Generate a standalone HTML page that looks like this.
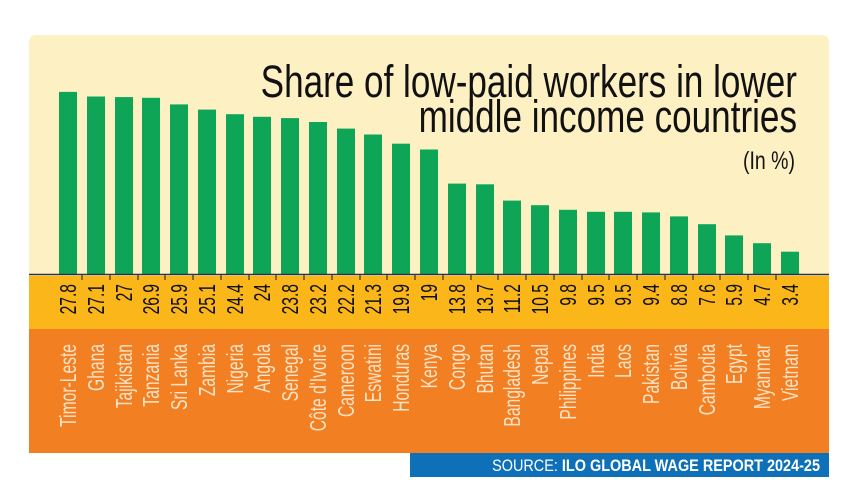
<!DOCTYPE html>
<html><head><style>body{margin:0;background:#fff}svg{display:block}</style></head><body>
<svg width="857" height="482" viewBox="0 0 857 482" xmlns="http://www.w3.org/2000/svg" font-family="'Liberation Sans Narrow','Liberation Sans',sans-serif">
<path d="M37,35 H821 Q829,35 829,43 V276 H29 V43 Q29,35 37,35Z" fill="#fdf0c2"/>
<rect x="29" y="276" width="800" height="53" fill="#fbb619"/>
<rect x="29" y="329" width="800" height="124" fill="#f27f22"/>
<rect x="410" y="453" width="419" height="24" fill="#0d70b8"/>
<text x="820" y="471" text-anchor="end" font-size="17" fill="#fff" transform="translate(820 0) scale(0.85 1) translate(-820 0)">SOURCE: <tspan font-weight="bold">ILO GLOBAL WAGE REPORT 2024-25</tspan></text>
<g fill="#111" text-anchor="end">
<text x="797" y="97" font-size="45" transform="translate(797 0) scale(0.78 1) translate(-797 0)">Share of low-paid workers in lower</text>
<text x="797" y="132" font-size="45" transform="translate(797 0) scale(0.78 1) translate(-797 0)">middle income countries</text>
<text x="795" y="169" font-size="25" transform="translate(795 0) scale(0.78 1) translate(-795 0)">(In %)</text>
</g>
<g fill="#0ea556">
<rect x="59" y="91.9" width="18" height="182.1"/>
<rect x="87" y="96.5" width="18" height="177.5"/>
<rect x="115" y="97.1" width="18" height="176.9"/>
<rect x="142" y="97.8" width="18" height="176.2"/>
<rect x="170" y="104.4" width="18" height="169.6"/>
<rect x="198" y="109.6" width="18" height="164.4"/>
<rect x="226" y="114.2" width="18" height="159.8"/>
<rect x="253" y="116.8" width="18" height="157.2"/>
<rect x="281" y="118.1" width="18" height="155.9"/>
<rect x="309" y="122" width="18" height="152"/>
<rect x="337" y="128.6" width="18" height="145.4"/>
<rect x="364" y="134.5" width="18" height="139.5"/>
<rect x="392" y="143.7" width="18" height="130.3"/>
<rect x="420" y="149.5" width="18" height="124.5"/>
<rect x="448" y="183.6" width="18" height="90.4"/>
<rect x="476" y="184.3" width="18" height="89.7"/>
<rect x="503" y="200.6" width="18" height="73.4"/>
<rect x="531" y="205.2" width="18" height="68.8"/>
<rect x="559" y="209.8" width="18" height="64.2"/>
<rect x="587" y="211.8" width="18" height="62.2"/>
<rect x="614" y="211.8" width="18" height="62.2"/>
<rect x="642" y="212.4" width="18" height="61.6"/>
<rect x="670" y="216.4" width="18" height="57.6"/>
<rect x="698" y="224.2" width="18" height="49.8"/>
<rect x="725" y="235.4" width="18" height="38.6"/>
<rect x="753" y="243.2" width="18" height="30.8"/>
<rect x="781" y="251.7" width="18" height="22.3"/>
</g>
<line x1="29" y1="274.5" x2="829" y2="274.5" stroke="#333" stroke-width="1.5"/>
<g stroke="#333" stroke-width="1.2">
<line x1="82" y1="274" x2="82" y2="280"/><line x1="110" y1="274" x2="110" y2="280"/><line x1="138" y1="274" x2="138" y2="280"/><line x1="165" y1="274" x2="165" y2="280"/><line x1="193" y1="274" x2="193" y2="280"/><line x1="221" y1="274" x2="221" y2="280"/><line x1="249" y1="274" x2="249" y2="280"/><line x1="276" y1="274" x2="276" y2="280"/><line x1="304" y1="274" x2="304" y2="280"/><line x1="332" y1="274" x2="332" y2="280"/><line x1="360" y1="274" x2="360" y2="280"/><line x1="387" y1="274" x2="387" y2="280"/><line x1="415" y1="274" x2="415" y2="280"/><line x1="443" y1="274" x2="443" y2="280"/><line x1="471" y1="274" x2="471" y2="280"/><line x1="498" y1="274" x2="498" y2="280"/><line x1="526" y1="274" x2="526" y2="280"/><line x1="554" y1="274" x2="554" y2="280"/><line x1="582" y1="274" x2="582" y2="280"/><line x1="609" y1="274" x2="609" y2="280"/><line x1="637" y1="274" x2="637" y2="280"/><line x1="665" y1="274" x2="665" y2="280"/><line x1="693" y1="274" x2="693" y2="280"/><line x1="720" y1="274" x2="720" y2="280"/><line x1="748" y1="274" x2="748" y2="280"/><line x1="776" y1="274" x2="776" y2="280"/>
</g>
<g font-size="23" fill="#111" text-anchor="end">
<text transform="translate(76 284) rotate(-90) scale(0.68 1)">27.8</text>
<text transform="translate(104 284) rotate(-90) scale(0.68 1)">27.1</text>
<text transform="translate(132 284) rotate(-90) scale(0.68 1)">27</text>
<text transform="translate(159 284) rotate(-90) scale(0.68 1)">26.9</text>
<text transform="translate(187 284) rotate(-90) scale(0.68 1)">25.9</text>
<text transform="translate(215 284) rotate(-90) scale(0.68 1)">25.1</text>
<text transform="translate(243 284) rotate(-90) scale(0.68 1)">24.4</text>
<text transform="translate(270 284) rotate(-90) scale(0.68 1)">24</text>
<text transform="translate(298 284) rotate(-90) scale(0.68 1)">23.8</text>
<text transform="translate(326 284) rotate(-90) scale(0.68 1)">23.2</text>
<text transform="translate(354 284) rotate(-90) scale(0.68 1)">22.2</text>
<text transform="translate(381 284) rotate(-90) scale(0.68 1)">21.3</text>
<text transform="translate(409 284) rotate(-90) scale(0.68 1)">19.9</text>
<text transform="translate(437 284) rotate(-90) scale(0.68 1)">19</text>
<text transform="translate(465 284) rotate(-90) scale(0.68 1)">13.8</text>
<text transform="translate(493 284) rotate(-90) scale(0.68 1)">13.7</text>
<text transform="translate(520 284) rotate(-90) scale(0.68 1)">11.2</text>
<text transform="translate(548 284) rotate(-90) scale(0.68 1)">10.5</text>
<text transform="translate(576 284) rotate(-90) scale(0.68 1)">9.8</text>
<text transform="translate(604 284) rotate(-90) scale(0.68 1)">9.5</text>
<text transform="translate(631 284) rotate(-90) scale(0.68 1)">9.5</text>
<text transform="translate(659 284) rotate(-90) scale(0.68 1)">9.4</text>
<text transform="translate(687 284) rotate(-90) scale(0.68 1)">8.8</text>
<text transform="translate(715 284) rotate(-90) scale(0.68 1)">7.6</text>
<text transform="translate(742 284) rotate(-90) scale(0.68 1)">5.9</text>
<text transform="translate(770 284) rotate(-90) scale(0.68 1)">4.7</text>
<text transform="translate(798 284) rotate(-90) scale(0.68 1)">3.4</text>
</g>
<g font-size="23" fill="#fde3c8" text-anchor="end">
<text transform="translate(76 344) rotate(-90) scale(0.68 1)">Timor-Leste</text>
<text transform="translate(104 344) rotate(-90) scale(0.68 1)">Ghana</text>
<text transform="translate(132 344) rotate(-90) scale(0.68 1)">Tajikistan</text>
<text transform="translate(159 344) rotate(-90) scale(0.68 1)">Tanzania</text>
<text transform="translate(187 344) rotate(-90) scale(0.68 1)">Sri Lanka</text>
<text transform="translate(215 344) rotate(-90) scale(0.68 1)">Zambia</text>
<text transform="translate(243 344) rotate(-90) scale(0.68 1)">Nigeria</text>
<text transform="translate(270 344) rotate(-90) scale(0.68 1)">Angola</text>
<text transform="translate(298 344) rotate(-90) scale(0.68 1)">Senegal</text>
<text transform="translate(326 344) rotate(-90) scale(0.68 1)">Côte d'Ivoire</text>
<text transform="translate(354 344) rotate(-90) scale(0.68 1)">Cameroon</text>
<text transform="translate(381 344) rotate(-90) scale(0.68 1)">Eswatini</text>
<text transform="translate(409 344) rotate(-90) scale(0.68 1)">Honduras</text>
<text transform="translate(437 344) rotate(-90) scale(0.68 1)">Kenya</text>
<text transform="translate(465 344) rotate(-90) scale(0.68 1)">Congo</text>
<text transform="translate(493 344) rotate(-90) scale(0.68 1)">Bhutan</text>
<text transform="translate(520 344) rotate(-90) scale(0.68 1)">Bangladesh</text>
<text transform="translate(548 344) rotate(-90) scale(0.68 1)">Nepal</text>
<text transform="translate(576 344) rotate(-90) scale(0.68 1)">Philippines</text>
<text transform="translate(604 344) rotate(-90) scale(0.68 1)">India</text>
<text transform="translate(631 344) rotate(-90) scale(0.68 1)">Laos</text>
<text transform="translate(659 344) rotate(-90) scale(0.68 1)">Pakistan</text>
<text transform="translate(687 344) rotate(-90) scale(0.68 1)">Bolivia</text>
<text transform="translate(715 344) rotate(-90) scale(0.68 1)">Cambodia</text>
<text transform="translate(742 344) rotate(-90) scale(0.68 1)">Egypt</text>
<text transform="translate(770 344) rotate(-90) scale(0.68 1)">Myanmar</text>
<text transform="translate(798 344) rotate(-90) scale(0.68 1)">Vietnam</text>
</g>
</svg>
</body></html>
